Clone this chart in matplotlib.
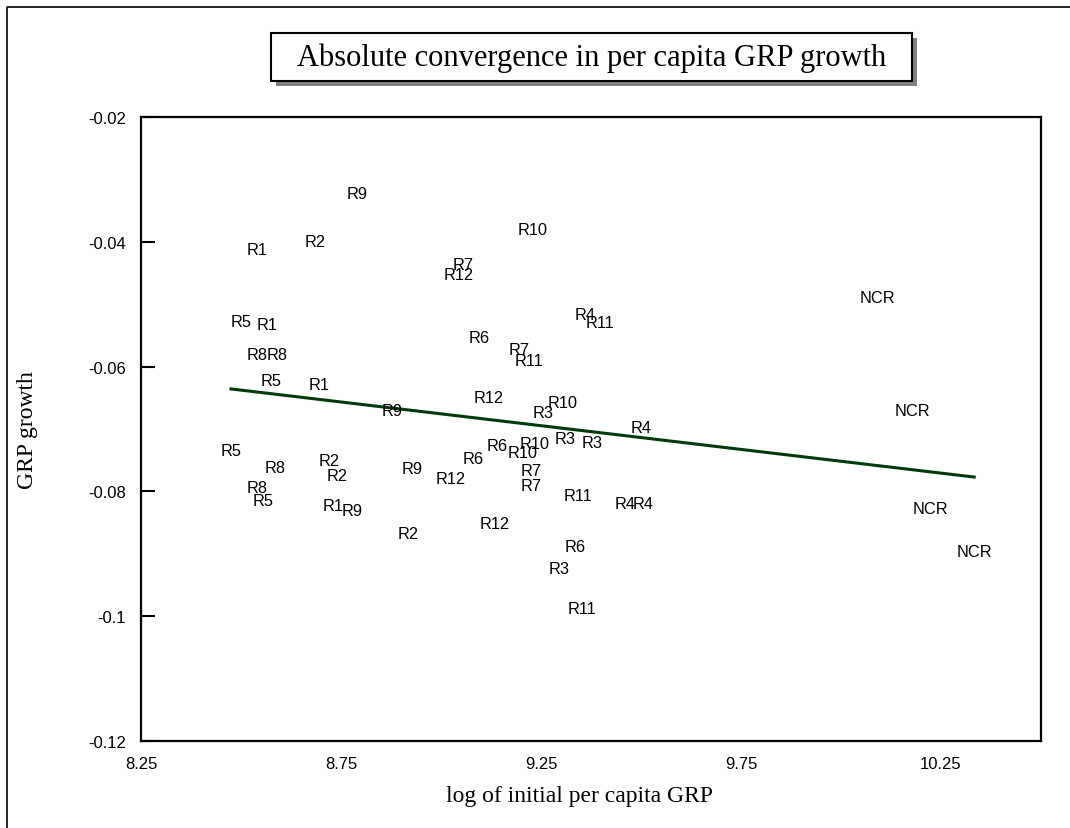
import numpy as np
import matplotlib
matplotlib.use("Agg")
import matplotlib.pyplot as plt
from matplotlib.patches import Rectangle
from matplotlib.lines import Line2D

# region labels with (log initial per capita GRP, GRP growth)
regions = ["R1"] * 4 + ["R2"] * 4 + ["R3"] * 4 + ["R4"] * 4 + ["R5"] * 4 + ["R6"] * 4 + \
          ["R7"] * 4 + ["R8"] * 4 + ["R9"] * 4 + ["R10"] * 4 + ["R11"] * 4 + ["R12"] * 4 + ["NCR"] * 4

log_grp = [8.540, 8.565, 8.695, 8.730,
           8.685, 8.720, 8.740, 8.918,
           9.255, 9.310, 9.378, 9.295,
           9.360, 9.500, 9.460, 9.505,
           8.500, 8.575, 8.475, 8.555,
           9.095, 9.080, 9.140, 9.335,
           9.055, 9.195, 9.225, 9.225,
           8.540, 8.590, 8.585, 8.540,
           8.790, 8.878, 8.928, 8.778,
           9.230, 9.303, 9.233, 9.203,
           9.398, 9.220, 9.343, 9.353,
           9.043, 9.118, 9.023, 9.133,
           10.090, 10.178, 10.223, 10.333]

growth = [-0.0412, -0.0533, -0.0629, -0.0822,
          -0.0400, -0.0751, -0.0774, -0.0867,
          -0.0674, -0.0716, -0.0721, -0.0924,
          -0.0516, -0.0697, -0.0819, -0.0819,
          -0.0527, -0.0623, -0.0735, -0.0815,
          -0.0553, -0.0748, -0.0727, -0.0889,
          -0.0437, -0.0572, -0.0766, -0.0790,
          -0.0580, -0.0580, -0.0761, -0.0793,
          -0.0322, -0.0670, -0.0764, -0.0831,
          -0.0381, -0.0657, -0.0724, -0.0737,
          -0.0529, -0.0591, -0.0807, -0.0987,
          -0.0452, -0.0650, -0.0780, -0.0851,
          -0.0490, -0.0670, -0.0827, -0.0896]

# fitted line (intercept, slope) as drawn
fit_intercept = 0.00083
fit_slope = -0.0076

xticks = [8.25, 8.75, 9.25, 9.75, 10.25]
xtick_labels = ["8.25", "8.75", "9.25", "9.75", "10.25"]
yticks = [-0.12, -0.10, -0.08, -0.06, -0.04, -0.02]
ytick_labels = ["-0.12", "-0.1", "-0.08", "-0.06", "-0.04", "-0.02"]

W, H = 1070, 829
fig = plt.figure(figsize=(W / 100, H / 100), dpi=100)
fig.patch.set_facecolor("white")

ax = fig.add_axes([141 / W, 1 - 742 / H, 900 / W, 624 / H])
ax.set_xlim(8.25, 10.5)
ax.set_ylim(-0.12, -0.02)

for x, y, lab in zip(log_grp, growth, regions):
    ax.text(x, y, lab, ha="center", va="center", fontsize=11.8,
            family="Liberation Sans", color="black")

xs = np.array([min(log_grp), max(log_grp)])
ax.plot(xs, fit_intercept + fit_slope * xs, color="#003a0a", lw=2.2)

ax.set_xticks(xticks)
ax.set_xticklabels(xtick_labels, family="Liberation Sans", fontsize=12)
ax.set_yticks(yticks)
ax.set_yticklabels(ytick_labels, family="Liberation Sans", fontsize=12)
ax.tick_params(axis="x", length=0, pad=11)
ax.tick_params(axis="y", direction="in", length=10, width=1.5, pad=11)
for s in ax.spines.values():
    s.set_linewidth(1.6)

fig.text(580 / W, 1 - 797 / H, "log of initial per capita GRP", ha="center", va="center",
         family="Liberation Serif", fontsize=17)
fig.text(28 / W, 1 - 430 / H, "GRP growth", ha="center", va="center", rotation=90,
         family="Liberation Serif", fontsize=17)

# title box with drop shadow
bx0, bx1, by0, by1 = 271, 912, 34, 82
fig.patches.append(Rectangle(((bx0 + 5) / W, 1 - (by1 + 5) / H), (bx1 - bx0) / W, (by1 - by0) / H,
                             transform=fig.transFigure, facecolor="#808080", edgecolor="none"))
fig.patches.append(Rectangle((bx0 / W, 1 - by1 / H), (bx1 - bx0) / W, (by1 - by0) / H,
                             transform=fig.transFigure, facecolor="white", edgecolor="black", lw=1.5))
fig.text((bx0 + bx1) / 2 / W, 1 - 58 / H, "Absolute convergence in per capita GRP growth",
         ha="center", va="center", family="Liberation Serif", fontsize=22)

# outer frame (left and top edges visible)
fig.lines.append(Line2D([7 / W, 7 / W, 1], [0, 1 - 8 / H, 1 - 8 / H],
                        transform=fig.transFigure, color="black", lw=1.2))

fig.savefig("out.png", dpi=100)
